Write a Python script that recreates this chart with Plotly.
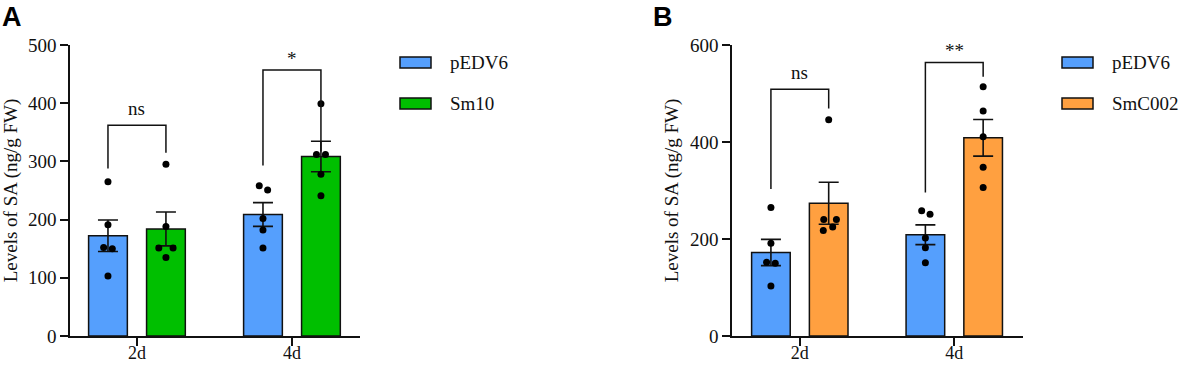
import numpy as np
import plotly.graph_objects as go

W, H = 1181, 365

# ---------------- data ----------------
categories = ["2d", "4d"]

# Panel A
pedv6_2d = [265, 191, 152, 150, 103]
pedv6_4d = [258, 251, 202, 182, 151]
sm10_2d = [295, 188, 151, 151, 135]
sm10_4d = [399, 312, 312, 278, 241]

# Panel B
smc002_2d = [446, 240, 240, 225, 217.5]
smc002_4d = [514, 464, 411, 348, 306]

# horizontal jitter of individual points (category units)
jit_pedv6_2d = [0, 0, -0.028, 0.028, 0]
jit_pedv6_4d = [-0.024, 0.030, 0, 0, 0]
jit_sm10_2d = [0, 0, -0.046, 0.046, 0]
jit_sm10_4d = [0, -0.029, 0.029, 0, 0]
jit_smc_2d = [0, -0.032, 0.050, 0.026, -0.035]
jit_smc_4d = [0, 0, 0, 0, 0]

# significance brackets: (label, left y, top y, right y)
sig_A = [("ns", 288, 362, 315), ("*", 293, 457, 317)]
sig_B = [("ns", 303, 509, 469), ("**", 296, 564, 534.5)]

BLUE = "#559FFD"
GREEN = "#00BF00"
ORANGE = "#FFA040"
FONT = "Liberation Serif"
OFF = 0.187
BW = 0.25


def mean_sem(v):
    a = np.array(v, dtype=float)
    return a.mean(), a.std(ddof=1) / np.sqrt(len(a))


def px(x):
    return x / W


def py(y):
    return 1 - y / H


fig = go.Figure()


def add_group(values_by_cat, jitters, offset, color, xa, ya):
    means, sems = zip(*[mean_sem(v) for v in values_by_cat])
    xs = [i + offset for i in range(len(values_by_cat))]
    fig.add_trace(go.Bar(
        x=xs, y=list(means), width=BW, xaxis=xa, yaxis=ya,
        marker=dict(color=color, line=dict(color="#111", width=1.5)),
        error_y=dict(type="data", array=list(sems), visible=True,
                     color="#111", thickness=1.6, width=10),
        showlegend=False, hoverinfo="skip",
    ))
    px_, py_ = [], []
    for i, (vals, jit) in enumerate(zip(values_by_cat, jitters)):
        for v, j in zip(vals, jit):
            px_.append(i + offset + j)
            py_.append(v)
    fig.add_trace(go.Scatter(
        x=px_, y=py_, mode="markers", xaxis=xa, yaxis=ya,
        marker=dict(color="#000", size=7), showlegend=False,
        hoverinfo="skip",
    ))


add_group([pedv6_2d, pedv6_4d], [jit_pedv6_2d, jit_pedv6_4d], -OFF, BLUE, "x", "y")
add_group([sm10_2d, sm10_4d], [jit_sm10_2d, jit_sm10_4d], OFF, GREEN, "x", "y")
add_group([pedv6_2d, pedv6_4d], [jit_pedv6_2d, jit_pedv6_4d], -OFF, BLUE, "x2", "y2")
add_group([smc002_2d, smc002_4d], [jit_smc_2d, jit_smc_4d], OFF, ORANGE, "x2", "y2")

shapes = []
annotations = []


def add_sig(sig, xr, yr):
    for i, (lab, yl, yt, yrr) in enumerate(sig):
        xl, xrr = i - OFF, i + OFF
        shapes.append(dict(type="path", xref=xr, yref=yr,
                           path=f"M {xl},{yl} L {xl},{yt} L {xrr},{yt} L {xrr},{yrr}",
                           line=dict(color="#111", width=1.5)))
        annotations.append(dict(x=i, y=yt, xref=xr, yref=yr, text=lab,
                                showarrow=False, yanchor="bottom",
                                yshift=4 if lab == "ns" else -1,
                                font=dict(family=FONT, size=19, color="#111")))


add_sig(sig_A, "x", "y")
add_sig(sig_B, "x2", "y2")


# custom legends
def add_legend(x0, items):
    ys = [57, 98]
    for (name, color), y in zip(items, ys):
        shapes.append(dict(type="rect", xref="paper", yref="paper",
                           x0=px(x0), x1=px(x0 + 31), y0=py(y + 11), y1=py(y),
                           fillcolor=color, line=dict(color="#111", width=1.5)))
        annotations.append(dict(x=px(x0 + 48), y=py(y + 5.5), xref="paper", yref="paper",
                                text=name, showarrow=False, xanchor="left",
                                yanchor="middle",
                                font=dict(family=FONT, size=19, color="#111")))


add_legend(400, [("pEDV6", BLUE), ("Sm10", GREEN)])
add_legend(1062, [("pEDV6", BLUE), ("SmC002", ORANGE)])

for lab, x in [("A", 0), ("B", 651)]:
    annotations.append(dict(x=px(x), y=py(0), xref="paper", yref="paper", text=f"<b>{lab}</b>",
                            showarrow=False, xanchor="left", yanchor="top",
                            font=dict(family="Liberation Sans", size=27, color="#000")))

axis_common = dict(showline=True, linecolor="#111", linewidth=1.5, ticks="outside",
                   ticklen=8, tickwidth=1.5, tickcolor="#111", showgrid=False,
                   zeroline=False, automargin=False,
                   tickfont=dict(family=FONT, size=19, color="#111"))

xaxis_common = dict(axis_common)
xaxis_common["tickfont"] = dict(family=FONT, size=18, color="#111")
xaxis_common["ticklabelstandoff"] = -8

fig.update_layout(
    template="none",
    width=W, height=H, margin=dict(l=0, r=0, t=0, b=0, pad=0),
    plot_bgcolor="white", paper_bgcolor="white", showlegend=False,
    font=dict(family=FONT, color="#111"),
    xaxis=dict(domain=[px(70), px(360)], range=[-0.432, 1.439], anchor="y",
               tickvals=[0, 1], ticktext=categories, **xaxis_common),
    yaxis=dict(domain=[py(336), py(45)], range=[0, 500], dtick=100, anchor="x",
               title=dict(text="Levels of SA (ng/g FW)", standoff=6,
                          font=dict(family=FONT, size=19, color="#111")),
               **axis_common),
    xaxis2=dict(domain=[px(732), px(1023)], range=[-0.439, 1.445], anchor="y2",
                tickvals=[0, 1], ticktext=categories, **xaxis_common),
    yaxis2=dict(domain=[py(336), py(45)], range=[0, 600], dtick=200, anchor="x2",
                title=dict(text="Levels of SA (ng/g FW)", standoff=6,
                           font=dict(family=FONT, size=19, color="#111")),
                **axis_common),
    shapes=shapes, annotations=annotations,
)

fig.write_html("out.html", config={"displayModeBar": False},
               post_script="document.body.style.margin='0px';")
